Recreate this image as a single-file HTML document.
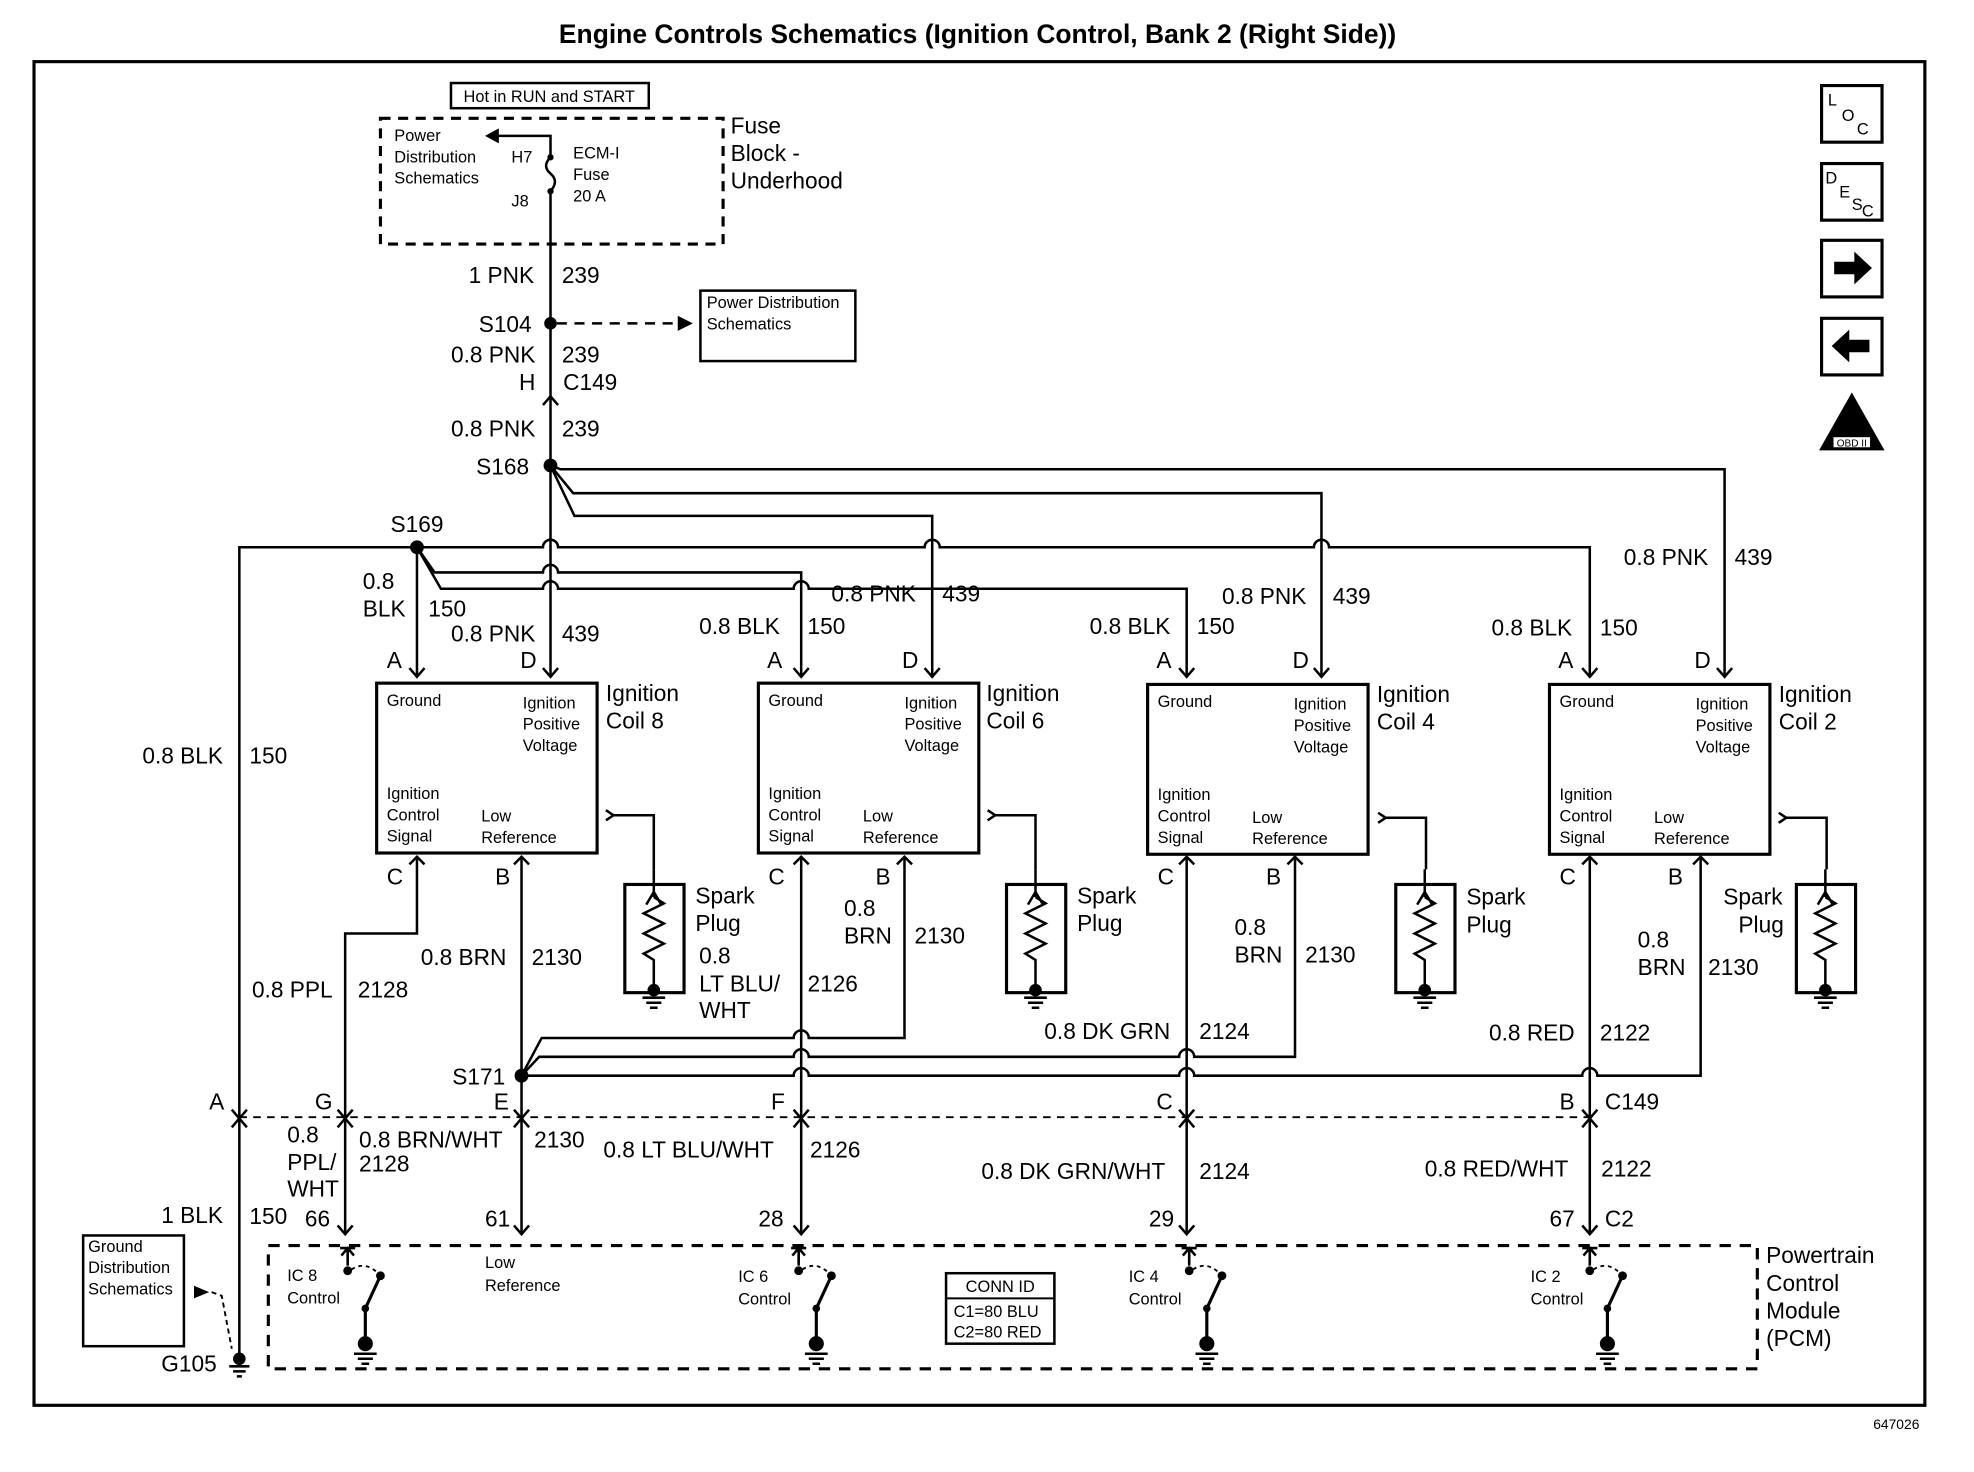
<!DOCTYPE html>
<html><head><meta charset="utf-8"><style>
html,body{margin:0;padding:0;background:#fff}
svg{display:block}
text{font-family:"Liberation Sans",Arial,sans-serif;fill:#000}
.l{font-size:18px}
.s{font-size:13px}
.t{font-size:21px;font-weight:bold}
</style></head><body>
<svg width="1974" height="1472" viewBox="0 0 1567 1170" preserveAspectRatio="none" xmlns="http://www.w3.org/2000/svg">
<defs>
<g id="coil">
<rect x="0" y="0" width="175" height="135" fill="none" stroke="#000" stroke-width="2.5"/>
<text class="s" x="8" y="18">Ground</text>
<text class="s" x="116" y="20">Ignition</text>
<text class="s" x="116" y="37">Positive</text>
<text class="s" x="116" y="54">Voltage</text>
<text class="s" x="8" y="92">Ignition</text>
<text class="s" x="8" y="109">Control</text>
<text class="s" x="8" y="126">Signal</text>
<text class="s" x="83" y="110">Low</text>
<text class="s" x="83" y="127">Reference</text>
</g>
<g id="plug">
<rect x="0" y="0" width="47" height="86" fill="none" stroke="#000" stroke-width="2.5"/>
<path d="M23 -12 V10 M17 16 L23 6 L29 16 M23 10 l8 5 l-16 8 l16 8 l-16 8 l16 8 l-16 8 l8 5 V82" fill="none" stroke="#000" stroke-width="2"/>
<circle cx="23" cy="84" r="5"/>
<path d="M14 90 H32 M17 94 H29 M20 98 H26" stroke="#000" stroke-width="2"/>
</g>
<g id="sw">
<path d="M0 0 V-12 M-5 -6 L0 -12 L5 -6 M-6 -12 H6" stroke="#000" stroke-width="2" fill="none"/>
<circle cx="0" cy="6" r="3.5"/>
<path d="M0 2 V-10" stroke="#000" stroke-width="2"/>
<path d="M3 5 Q14 -2 24 8" stroke="#000" stroke-width="1.5" stroke-dasharray="3 3" fill="none"/>
<circle cx="26" cy="10" r="3.5"/>
<path d="M26 10 L14 36 V62" stroke="#000" stroke-width="2.5" fill="none"/>
<circle cx="14" cy="36" r="3"/>
<circle cx="14" cy="64" r="6"/>
<path d="M5 72 H23 M8 76 H20 M11 80 H17" stroke="#000" stroke-width="2"/>
</g>
</defs>

<text class="t" x="776" y="34" text-anchor="middle">Engine Controls Schematics (Ignition Control, Bank 2 (Right Side))</text>
<rect x="27" y="49" width="1501" height="1068" fill="none" stroke="#000" stroke-width="2.5"/>

<rect x="1446" y="68" width="48" height="45" fill="none" stroke="#000" stroke-width="2.5"/>
<text class="s" x="1451" y="84">L</text><text class="s" x="1462" y="96">O</text><text class="s" x="1474" y="107">C</text>
<rect x="1446" y="130" width="48" height="45" fill="none" stroke="#000" stroke-width="2.5"/>
<text class="s" x="1449" y="146">D</text><text class="s" x="1460" y="157">E</text><text class="s" x="1470" y="167">S</text><text class="s" x="1478" y="172">C</text>
<rect x="1446" y="191" width="48" height="45" fill="none" stroke="#000" stroke-width="2.5"/>
<path d="M1456 208 H1472 V200 L1486 213 L1472 226 V218 H1456 Z"/>
<rect x="1446" y="253" width="48" height="45" fill="none" stroke="#000" stroke-width="2.5"/>
<path d="M1484 270 H1468 V262 L1454 275 L1468 288 V280 H1484 Z"/>
<path d="M1470 312 L1496 358 H1444 Z"/>
<rect x="1455" y="347" width="30" height="9" fill="#fff" stroke="#000"/>
<text x="1470" y="355" font-size="8" text-anchor="middle">OBD II</text>

<rect x="358" y="66" width="157" height="20" fill="none" stroke="#000" stroke-width="2"/>
<text class="s" x="436" y="81" text-anchor="middle">Hot in RUN and START</text>
<rect x="302" y="94" width="272" height="100" fill="none" stroke="#000" stroke-width="2.5" stroke-dasharray="8 6"/>
<text class="s" x="313" y="112">Power</text>
<text class="s" x="313" y="129">Distribution</text>
<text class="s" x="313" y="146">Schematics</text>
<text class="s" x="406" y="129">H7</text>
<text class="s" x="406" y="164">J8</text>
<text class="s" x="455" y="126">ECM-I</text>
<text class="s" x="455" y="143">Fuse</text>
<text class="s" x="455" y="160">20 A</text>
<text class="l" x="580" y="106">Fuse</text>
<text class="l" x="580" y="128">Block -</text>
<text class="l" x="580" y="150">Underhood</text>
<path d="M437 125 V108 H395" stroke="#000" stroke-width="2" fill="none"/>
<path d="M385 108 L396 102 V114 Z"/>
<path d="M437 125 Q430 132 437 138 Q444 144 437 152 V370" stroke="#000" stroke-width="2" fill="none"/>
<circle cx="437" cy="125" r="2.5"/><circle cx="437" cy="152" r="2.5"/>

<text class="l" x="372" y="225">1 PNK</text><text class="l" x="446" y="225">239</text>
<circle cx="437" cy="257" r="5"/>
<text class="l" x="380" y="264">S104</text>
<path d="M442 257 H540" stroke="#000" stroke-width="2" stroke-dasharray="8 6"/>
<path d="M550 257 L538 251 V263 Z"/>
<rect x="556" y="231" width="123" height="56" fill="none" stroke="#000" stroke-width="2"/>
<text class="s" x="561" y="245">Power Distribution</text>
<text class="s" x="561" y="262">Schematics</text>
<text class="l" x="358" y="288">0.8 PNK</text><text class="l" x="446" y="288">239</text>
<text class="l" x="412" y="310">H</text><text class="l" x="447" y="310">C149</text>
<path d="M431 322 L437 315 L443 322" stroke="#000" stroke-width="2" fill="none"/>
<text class="l" x="358" y="347">0.8 PNK</text><text class="l" x="446" y="347">239</text>
<circle cx="437" cy="370" r="5.5"/>
<text class="l" x="378" y="377">S168</text>

<g stroke="#000" stroke-width="2" fill="none">
<path d="M437 370 L445 373 H1369 V537"/>
<path d="M437 370 L455 392 H1049 V537"/>
<path d="M437 370 L456 410 H740 V537"/>
<path d="M437 370 V537"/>
<path d="M190 1082 V435 H431 A6 6 0 0 1 443 435 H734 A6 6 0 0 1 746 435 H1043 A6 6 0 0 1 1055 435 H1262 V537"/>
<path d="M331 435 V537"/>
<path d="M331 435 L345 455 H431 A6 6 0 0 1 443 455 H636 V537" />
<path d="M331 435 L350 468 H431 A6 6 0 0 1 443 468 H630 A6 6 0 0 1 642 468 H942 V537"/>
</g>
<circle cx="331" cy="435" r="5.5"/>
<text class="l" x="310" y="423">S169</text>

<g stroke="#000" stroke-width="2" fill="none">
<path d="M325 531 L331 538 L337 531"/><path d="M431 531 L437 538 L443 531"/>
<path d="M630 531 L636 538 L642 531"/><path d="M734 531 L740 538 L746 531"/>
<path d="M936 531 L942 538 L948 531"/><path d="M1043 531 L1049 538 L1055 531"/>
<path d="M1256 531 L1262 538 L1268 531"/><path d="M1363 531 L1369 538 L1375 531"/>
</g>

<text class="l" x="288" y="468">0.8</text><text class="l" x="288" y="490">BLK</text><text class="l" x="340" y="490">150</text>
<text class="l" x="358" y="510">0.8 PNK</text><text class="l" x="446" y="510">439</text>
<text class="l" x="555" y="504">0.8 BLK</text><text class="l" x="641" y="504">150</text>
<text class="l" x="660" y="478">0.8 PNK</text><text class="l" x="748" y="478">439</text>
<text class="l" x="865" y="504">0.8 BLK</text><text class="l" x="950" y="504">150</text>
<text class="l" x="970" y="480">0.8 PNK</text><text class="l" x="1058" y="480">439</text>
<text class="l" x="1184" y="505">0.8 BLK</text><text class="l" x="1270" y="505">150</text>
<text class="l" x="1289" y="449">0.8 PNK</text><text class="l" x="1377" y="449">439</text>
<text class="l" x="113" y="607">0.8 BLK</text><text class="l" x="198" y="607">150</text>

<text class="l" x="307" y="531">A</text><text class="l" x="413" y="531">D</text>
<text class="l" x="609" y="531">A</text><text class="l" x="716" y="531">D</text>
<text class="l" x="918" y="531">A</text><text class="l" x="1026" y="531">D</text>
<text class="l" x="1237" y="531">A</text><text class="l" x="1345" y="531">D</text>

<use href="#coil" x="299" y="543"/><use href="#coil" x="602" y="543"/>
<use href="#coil" x="911" y="544"/><use href="#coil" x="1230" y="544"/>
<text class="l" x="481" y="557">Ignition</text><text class="l" x="481" y="579">Coil 8</text>
<text class="l" x="783" y="557">Ignition</text><text class="l" x="783" y="579">Coil 6</text>
<text class="l" x="1093" y="558">Ignition</text><text class="l" x="1093" y="580">Coil 4</text>
<text class="l" x="1412" y="558">Ignition</text><text class="l" x="1412" y="580">Coil 2</text>

<g stroke="#000" stroke-width="2" fill="none">
<path d="M481 644 L487 648 L481 652 M487 648 H519 V691"/>
<path d="M784 644 L790 648 L784 652 M790 648 H822 V691"/>
<path d="M1094 646 L1100 650 L1094 654 M1100 650 H1132 V691"/>
<path d="M1412 646 L1418 650 L1412 654 M1418 650 H1450 V691"/>
</g>
<use href="#plug" x="496" y="703"/><use href="#plug" x="799" y="703"/>
<use href="#plug" x="1108" y="703"/><use href="#plug" x="1426" y="703"/>
<text class="l" x="552" y="718">Spark</text><text class="l" x="552" y="740">Plug</text>
<text class="l" x="855" y="718">Spark</text><text class="l" x="855" y="740">Plug</text>
<text class="l" x="1164" y="719">Spark</text><text class="l" x="1164" y="741">Plug</text>
<text class="l" x="1368" y="719">Spark</text><text class="l" x="1380" y="741">Plug</text>

<text class="l" x="307" y="703">C</text><text class="l" x="393" y="703">B</text>
<text class="l" x="610" y="703">C</text><text class="l" x="695" y="703">B</text>
<text class="l" x="919" y="703">C</text><text class="l" x="1005" y="703">B</text>
<text class="l" x="1238" y="703">C</text><text class="l" x="1324" y="703">B</text>

<g stroke="#000" stroke-width="2" fill="none">
<path d="M325 687 L331 681 L337 687 M331 681 V742 H274 V980"/>
<path d="M408 687 L414 681 L420 687 M414 681 V855"/>
<path d="M630 687 L636 681 L642 687 M636 681 V980"/>
<path d="M712 687 L718 681 L724 687 M718 681 V825 H642 A6 6 0 0 0 630 825 H430 L414 855"/>
<path d="M936 687 L942 681 L948 687 M942 681 V980"/>
<path d="M1022 687 L1028 681 L1034 687 M1028 681 V840 H948 A6 6 0 0 0 936 840 H642 A6 6 0 0 0 630 840 H428 L414 855"/>
<path d="M1256 687 L1262 681 L1268 687 M1262 681 V980"/>
<path d="M1344 687 L1350 681 L1356 687 M1350 681 V855 H1268 A6 6 0 0 0 1256 855 H948 A6 6 0 0 0 936 855 H642 A6 6 0 0 0 630 855 H414 V980"/>
</g>
<circle cx="414" cy="855" r="5.5"/>
<text class="l" x="359" y="862">S171</text>

<text class="l" x="200" y="793">0.8 PPL</text><text class="l" x="284" y="793">2128</text>
<text class="l" x="334" y="767">0.8 BRN</text><text class="l" x="422" y="767">2130</text>
<text class="l" x="555" y="766">0.8</text><text class="l" x="555" y="788">LT BLU/</text><text class="l" x="555" y="809">WHT</text><text class="l" x="641" y="788">2126</text>
<text class="l" x="670" y="728">0.8</text><text class="l" x="670" y="750">BRN</text><text class="l" x="726" y="750">2130</text>
<text class="l" x="980" y="743">0.8</text><text class="l" x="980" y="765">BRN</text><text class="l" x="1036" y="765">2130</text>
<text class="l" x="829" y="826">0.8 DK GRN</text><text class="l" x="952" y="826">2124</text>
<text class="l" x="1300" y="753">0.8</text><text class="l" x="1300" y="775">BRN</text><text class="l" x="1356" y="775">2130</text>
<text class="l" x="1182" y="827">0.8 RED</text><text class="l" x="1270" y="827">2122</text>

<path d="M190 888 H1265" stroke="#000" stroke-width="1.5" stroke-dasharray="6 5"/>
<g stroke="#000" stroke-width="2" fill="none">
<path d="M184 882 L190 889 L196 882"/><path d="M268 882 L274 889 L280 882"/>
<path d="M408 882 L414 889 L420 882"/><path d="M630 882 L636 889 L642 882"/>
<path d="M936 882 L942 889 L948 882"/><path d="M1256 882 L1262 889 L1268 882"/>
<path d="M184 896 L190 889 L196 896"/><path d="M268 896 L274 889 L280 896"/>
<path d="M408 896 L414 889 L420 896"/><path d="M630 896 L636 889 L642 896"/>
<path d="M936 896 L942 889 L948 896"/><path d="M1256 896 L1262 889 L1268 896"/>
</g>
<text class="l" x="166" y="882">A</text><text class="l" x="250" y="882">G</text>
<text class="l" x="392" y="882">E</text><text class="l" x="612" y="882">F</text>
<text class="l" x="918" y="882">C</text><text class="l" x="1238" y="882">B</text>
<text class="l" x="1274" y="882">C149</text>

<text class="l" x="228" y="908">0.8</text><text class="l" x="228" y="930">PPL/</text><text class="l" x="228" y="951">WHT</text>
<text class="l" x="285" y="912">0.8 BRN/WHT</text><text class="l" x="285" y="931">2128</text><text class="l" x="424" y="912">2130</text>
<text class="l" x="479" y="920">0.8 LT BLU/WHT</text><text class="l" x="643" y="920">2126</text>
<text class="l" x="779" y="937">0.8 DK GRN/WHT</text><text class="l" x="952" y="937">2124</text>
<text class="l" x="1131" y="935">0.8 RED/WHT</text><text class="l" x="1271" y="935">2122</text>
<text class="l" x="128" y="972">1 BLK</text><text class="l" x="198" y="973">150</text>
<text class="l" x="242" y="975">66</text><text class="l" x="385" y="975">61</text>
<text class="l" x="602" y="975">28</text><text class="l" x="912" y="975">29</text>
<text class="l" x="1230" y="975">67</text><text class="l" x="1274" y="975">C2</text>
<g stroke="#000" stroke-width="2" fill="none">
<path d="M268 974 L274 981 L280 974"/><path d="M408 974 L414 981 L420 974"/>
<path d="M630 974 L636 981 L642 974"/><path d="M936 974 L942 981 L948 974"/>
<path d="M1256 974 L1262 981 L1268 974"/>
</g>

<rect x="213" y="990" width="1182" height="98" fill="none" stroke="#000" stroke-width="2.5" stroke-dasharray="9 7"/>
<text class="l" x="1402" y="1004">Powertrain</text><text class="l" x="1402" y="1026">Control</text>
<text class="l" x="1402" y="1048">Module</text><text class="l" x="1402" y="1070">(PCM)</text>
<use href="#sw" x="276" y="1004"/><use href="#sw" x="634" y="1004"/>
<use href="#sw" x="944" y="1004"/><use href="#sw" x="1262" y="1004"/>
<text class="s" x="228" y="1018">IC 8</text><text class="s" x="228" y="1036">Control</text>
<text class="s" x="385" y="1008">Low</text><text class="s" x="385" y="1026">Reference</text>
<text class="s" x="586" y="1019">IC 6</text><text class="s" x="586" y="1037">Control</text>
<text class="s" x="896" y="1019">IC 4</text><text class="s" x="896" y="1037">Control</text>
<text class="s" x="1215" y="1019">IC 2</text><text class="s" x="1215" y="1037">Control</text>
<rect x="751" y="1012" width="86" height="56" fill="none" stroke="#000" stroke-width="2"/>
<path d="M751 1032 H837" stroke="#000" stroke-width="1.5"/>
<text class="s" x="794" y="1027" text-anchor="middle">CONN ID</text>
<text class="s" x="757" y="1047">C1=80 BLU</text><text class="s" x="757" y="1063">C2=80 RED</text>

<rect x="66" y="982" width="80" height="88" fill="none" stroke="#000" stroke-width="2"/>
<text class="s" x="70" y="995">Ground</text><text class="s" x="70" y="1012">Distribution</text><text class="s" x="70" y="1029">Schematics</text>
<path d="M154 1022 L166 1027 L154 1032 Z"/>
<path d="M168 1027 L176 1030 L184 1072" stroke="#000" stroke-width="1.5" stroke-dasharray="4 3" fill="none"/>
<circle cx="190" cy="1080" r="5"/>
<path d="M182 1086 H198 M185 1090 H195 M188 1094 H192" stroke="#000" stroke-width="2"/>
<text class="l" x="128" y="1090">G105</text>

<text x="1487" y="1136" font-size="11">647026</text>
</svg>
</body></html>
